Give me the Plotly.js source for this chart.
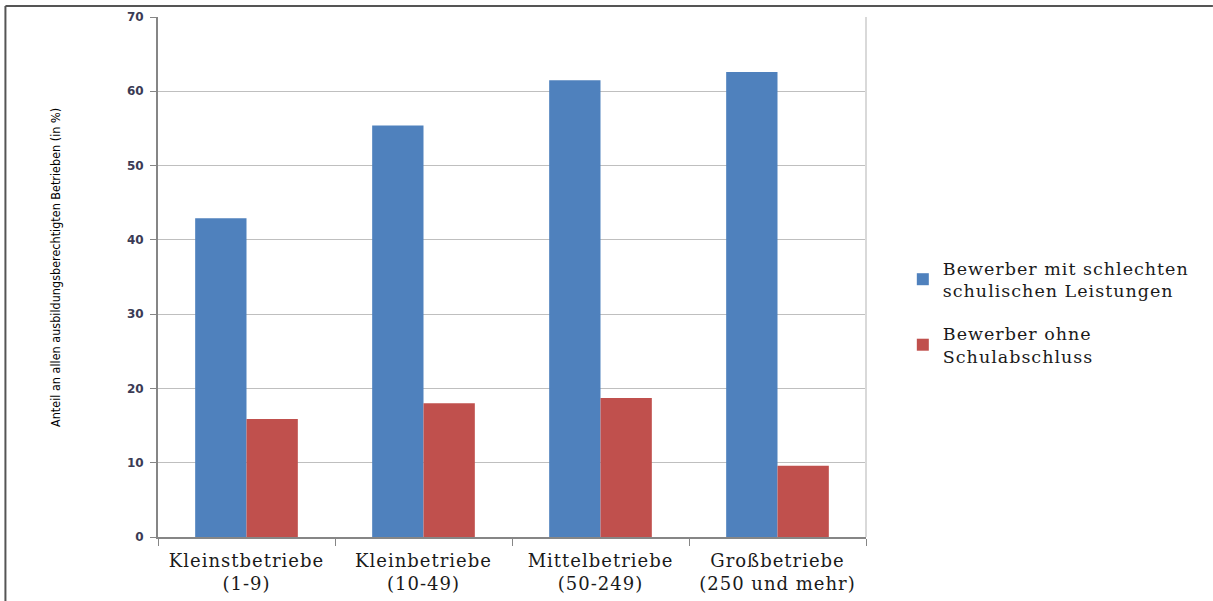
<!DOCTYPE html>
<html>
<head>
<meta charset="utf-8">
<script src="https://cdn.plot.ly/plotly-3.0.1.min.js"></script>
<style>
html,body{margin:0;padding:0;background:#fff;}
#chart{width:1213px;height:601px;}
#chart .xtick text, #chart .legendtext{letter-spacing:1px;}
#chart .legend .scrollbox, #chart .legend{clip-path:none !important;}
</style>
</head>
<body>
<div id="chart"></div>
<script>
const categories = ["Kleinstbetriebe<br>(1-9)", "Kleinbetriebe<br>(10-49)", "Mittelbetriebe<br>(50-249)", "Großbetriebe<br>(250 und mehr)"];
const seriesNames = ["Bewerber mit schlechten<br>schulischen Leistungen", "Bewerber ohne<br>Schulabschluss"];
const schlechteLeistungen = [42.9, 55.4, 61.5, 62.6];
const ohneAbschluss = [15.9, 18.0, 18.7, 9.6];
const yTicks = [0, 10, 20, 30, 40, 50, 60, 70];
const yTitle = "Anteil an allen ausbildungsberechtigten Betrieben (in %)";

const serif = "'DejaVu Serif', 'Liberation Serif', serif";

const traces = [
  {type: "bar", name: seriesNames[0], x: categories, y: schlechteLeistungen,
   legendgroup: "a", marker: {color: "#4f81bd"}},
  {type: "bar", name: seriesNames[1], x: categories, y: ohneAbschluss,
   legendgroup: "b", marker: {color: "#c0504d"}}
];

const layout = {
  width: 1213, height: 601,
  margin: {l: 158, r: 347, t: 17, b: 64},
  paper_bgcolor: "#fff", plot_bgcolor: "#fff",
  barmode: "group", bargap: 0.42, bargroupgap: 0,
  showlegend: true,
  legend: {x: 1.052, y: 0.552, xanchor: "left", yanchor: "top",
           bgcolor: "rgba(0,0,0,0)",
           font: {family: serif, size: 17.5, color: "#1a1a1a"},
           tracegroupgap: 17, itemwidth: 30, traceorder: "grouped"},
  xaxis: {
    type: "category", tickson: "boundaries", ticks: "outside", ticklen: 7,
    tickcolor: "#868686", showline: true, linecolor: "#868686", linewidth: 2,
    showgrid: false, tickfont: {family: serif, size: 18, color: "#1a1a1a"},
    ticklabelstandoff: 6,
    range: [-0.5, 3.5], fixedrange: true
  },
  yaxis: {
    range: [0, 70], tickvals: yTicks, ticktext: yTicks.map(String),
    ticks: "outside", ticklen: 6, tickcolor: "#868686",
    showline: true, linecolor: "#868686", linewidth: 2,
    showgrid: true, gridcolor: "#bfbfbf", gridwidth: 1, zeroline: false,
    tickfont: {family: "'DejaVu Sans', sans-serif", size: 12, color: "#3b3b55", weight: "bold"},
    ticklabelstandoff: 4,
    fixedrange: true
  },
  annotations: [
    {text: yTitle, textangle: -90, xref: "paper", yref: "paper",
     x: (55 - 158) / 708, y: (537 - 268) / 520, xanchor: "center", yanchor: "middle",
     showarrow: false,
     font: {family: "'Liberation Sans Narrow', 'DejaVu Sans Condensed', sans-serif", size: 12.5, color: "#000"}}
  ],
  shapes: [
    {type: "line", xref: "paper", yref: "paper", x0: -0.2155, x1: 1.49, y0: 1.021, y1: 1.021,
     line: {color: "#555", width: 2}},
    {type: "line", xref: "paper", yref: "paper", x0: -0.2155, x1: -0.2155, y0: 1.021, y1: -0.13,
     line: {color: "#555", width: 2}},
    {type: "line", xref: "paper", yref: "paper", x0: 1, x1: 1, y0: 0, y1: 1,
     line: {color: "#d9d9d9", width: 2}}
  ]
};

Plotly.newPlot("chart", traces, layout, {displayModeBar: false, staticPlot: true});
</script>
</body>
</html>
